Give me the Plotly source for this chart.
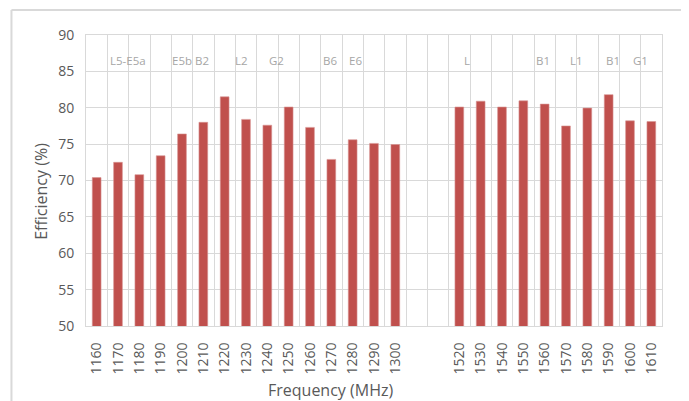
import plotly.graph_objects as go

# ---- data ----
freqs_low = ["1160", "1170", "1180", "1190", "1200", "1210", "1220", "1230",
             "1240", "1250", "1260", "1270", "1280", "1290", "1300"]
eff_low = [70.4, 72.5, 70.8, 73.4, 76.4, 78.0, 81.5, 78.4, 77.6, 80.1,
           77.3, 72.9, 75.6, 75.1, 74.95]
gap_cats = [" ", "  "]
freqs_high = ["1520", "1530", "1540", "1550", "1560", "1570", "1580", "1590",
              "1600", "1610"]
eff_high = [80.1, 80.9, 80.1, 80.95, 80.5, 77.5, 79.95, 81.8, 78.2, 78.1]

band_labels = ["L5-E5a", "E5b", "B2", "L2", "G2", "B6", "E6",
               "L", "B1", "L1", "B1", "G1"]
band_pos = [1.47, 4.0, 4.95, 6.78, 8.42, 10.96, 12.13,
            17.35, 20.92, 22.5, 24.2, 25.47]

x_title = "Frequency (MHz)"
y_title = "Efficiency (%)"

categories = freqs_low + gap_cats + freqs_high
values = eff_low + [None, None] + eff_high

FONT = "Open Sans"
GRID = "#D9D9D9"
TXT = "#595959"

# page body has an 8px default margin; compensate
OFF = 8
W, H = 689 - OFF, 401 - OFF
L, R, T, B = 86 - OFF, 661.7 - OFF, 35 - OFF, 325.7 - OFF
PW, PH = R - L, B - T


def px(xp):
    return (xp - OFF - L) / PW


def py(yp):
    return 1 - (yp - OFF - T) / PH


fig = go.Figure()
fig.add_trace(go.Bar(
    x=categories, y=values,
    marker=dict(color="#C0504D", line=dict(color="#D99694", width=0.6)),
    width=0.41,
    showlegend=False,
))

for t, p in zip(band_labels, band_pos):
    fig.add_annotation(x=p, y=86.55, xref="x", yref="y", text=t,
                       showarrow=False, font=dict(family=FONT, size=11.5, color="#A6A6A6"))

fig.add_annotation(x=px(330), y=py(390), xref="paper", yref="paper", text=x_title,
                   showarrow=False, xanchor="center", yanchor="middle",
                   font=dict(family=FONT, size=16, color=TXT))
fig.add_annotation(x=px(40.7), y=py(191), xref="paper", yref="paper", text=y_title,
                   showarrow=False, xanchor="center", yanchor="middle", textangle=-90,
                   font=dict(family=FONT, size=16, color=TXT))

fig.update_layout(
    width=W, height=H,
    margin=dict(l=L, r=W - R, t=T, b=H - B, autoexpand=False),
    paper_bgcolor="white", plot_bgcolor="white",
    font=dict(family=FONT, color=TXT),
    xaxis=dict(
        type="category", categoryorder="array", categoryarray=categories,
        tickson="boundaries", showgrid=True, gridcolor=GRID, gridwidth=1,
        showline=True, linecolor=GRID, mirror=True,
        tickangle=-90, tickfont=dict(size=14, color=TXT),
        ticks="", ticklabelstandoff=10,
    ),
    yaxis=dict(
        range=[50, 90], dtick=5, showgrid=True, gridcolor=GRID, gridwidth=1,
        showline=True, linecolor=GRID, mirror=True, zeroline=False,
        tickfont=dict(size=14, color=TXT), ticks="", ticklabelstandoff=8,
    ),
    bargap=0.59,
)

# outer chart-area border (top and left)
bx = px(11.5)
by = py(10)
fig.add_shape(type="line", xref="paper", yref="paper",
              x0=bx, x1=2, y0=by, y1=by,
              line=dict(color="#D9D9D9", width=2))
fig.add_shape(type="line", xref="paper", yref="paper",
              x0=bx, x1=bx, y0=by, y1=-1,
              line=dict(color="#D9D9D9", width=2))

fig.write_html("out.html")
